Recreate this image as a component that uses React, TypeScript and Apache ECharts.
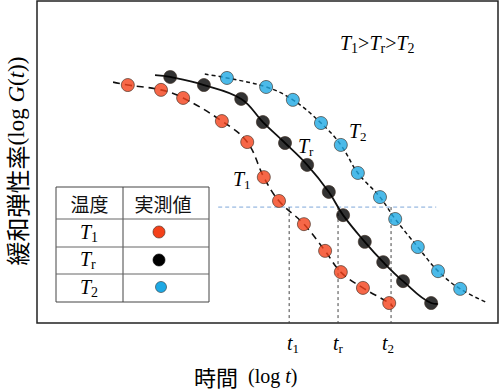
import React, { useEffect, useRef } from "react";
import * as echarts from "echarts";

// Measured points (x = log t, y = log G(t)), arbitrary units
const t1Points = [[1.97, 7.39], [2.69, 7.24], [3.17, 6.99], [4.01, 6.27], [4.56, 5.62], [4.92, 4.53], [5.25, 3.79], [5.79, 3.07], [6.25, 2.24], [6.59, 1.58], [7.07, 1.09], [7.64, 0.62]];
const trPoints = [[2.89, 7.64], [3.62, 7.39], [4.43, 6.96], [4.9, 6.24], [5.38, 5.59], [5.86, 4.91], [6.33, 4.07], [6.64, 3.35], [7.11, 2.52], [7.51, 1.89], [7.94, 1.3], [8.55, 0.62]];
const t2Points = [[4.12, 7.61], [4.97, 7.33], [5.55, 6.93], [6.16, 6.21], [6.59, 5.53], [6.96, 4.66], [7.44, 3.91], [7.77, 3.23], [8.26, 2.36], [8.7, 1.61], [9.18, 1.06]];

// Curve end points
const t1CurveEnds = [[1.65, 7.48], [7.72, 0.5]];
const trCurveEnds = [[2.56, 7.7], [8.7, 0.59]];
const t2CurveEnds = [[3.64, 7.73], [9.78, 0.62]];

// Reference level and shift times
const refLevel = 3.6;
const refRange = [3.93, 8.66];
const shiftTimes = [5.47, 6.53, 7.68];
const shiftLabels = ["1", "r", "2"];

const RED = "#F4411A";
const BLACK = "#000000";
const BLUE = "#1EA9E4";
const SERIF = "'Liberation Serif', 'Times New Roman', serif";
const CJK = "'Noto Sans CJK JP', 'Noto Sans', sans-serif";

const richT = (size: number, sub: number) => ({
  i: { fontFamily: SERIF, fontStyle: "italic", fontSize: size, lineHeight: size, color: "#111" },
  o: { fontFamily: SERIF, fontSize: size, lineHeight: size, color: "#111" },
  s: { fontFamily: SERIF, fontSize: sub, lineHeight: sub, padding: [Math.round(size * 0.5), 0, 0, 0], color: "#111" },
});

export default function App() {
  const ref = useRef<HTMLDivElement>(null);
  useEffect(() => {
    if (!ref.current) return;
    const chart = echarts.init(ref.current, null, { renderer: "svg" });
    const curve = (pts: number[][], ends: number[][]) => [ends[0], ...pts, ends[1]];
    const lineSeries = (name: string, data: number[][], type: any, width: number) => ({
      type: "line",
      name,
      data,
      smooth: 0.4,
      showSymbol: false,
      symbol: "none",
      lineStyle: { color: "#111", width, type },
      z: 2,
      silent: true,
    });
    const scatter = (name: string, data: number[][], color: string) => ({
      type: "scatter",
      name,
      data,
      symbol: "circle",
      symbolSize: 13,
      itemStyle: { color, borderColor: "#3a2a20", borderWidth: 0.8 },
      z: 3,
    });
    const refSeries: any[] = [
      {
        type: "line",
        data: [[refRange[0], refLevel], [refRange[1], refLevel]],
        showSymbol: false,
        symbol: "none",
        lineStyle: { color: "#7FA8DA", width: 1, type: [4, 3] },
        z: 1,
      },
      ...shiftTimes.map((x) => ({
        type: "line",
        data: [[x, refLevel], [x, 0]],
        showSymbol: false,
        symbol: "none",
        lineStyle: { color: "#444", width: 1, type: [3, 3] },
        z: 1,
      })),
    ];

    const tText = (letter: string, sub: string, x: number, y: number, size = 20, subSize = 13) => ({
      type: "text",
      x,
      y,
      style: {
        text: `{i|${letter}}{s|${sub}}`,
        rich: richT(size, subSize),
        align: "left",
        verticalAlign: "middle",
      },
    });

    const shiftPx = [287, 333, 382];

    chart.setOption({
      animation: false,
      grid: { left: 37, top: 1, width: 461, height: 322, show: true, borderColor: "#222", borderWidth: 1.5, backgroundColor: "#fff" },
      xAxis: { type: "value", min: 0, max: 10, axisLine: { show: false }, axisTick: { show: false }, axisLabel: { show: false }, splitLine: { show: false } },
      yAxis: { type: "value", min: 0, max: 10, axisLine: { show: false }, axisTick: { show: false }, axisLabel: { show: false }, splitLine: { show: false } },
      series: [
        ...refSeries,
        lineSeries("T1 curve", curve(t1Points, t1CurveEnds), [7, 5], 1.6),
        lineSeries("Tr curve", curve(trPoints, trCurveEnds), "solid", 1.8),
        lineSeries("T2 curve", curve(t2Points, t2CurveEnds), [4, 3], 1.5),
        scatter("T1", t1Points, RED),
        scatter("Tr", trPoints, BLACK),
        scatter("T2", t2Points, BLUE),
      ],
      graphic: [
        {
          type: "text",
          x: 340,
          y: 43,
          style: {
            text: "{i|T}{s|1}{o|>}{i|T}{s|r}{o|>}{i|T}{s|2}",
            rich: richT(20, 14),
            align: "left",
            verticalAlign: "middle",
          },
        },
        tText("T", "2", 349, 131),
        tText("T", "r", 298, 146),
        tText("T", "1", 233, 179),
        ...shiftLabels.map((s, i) => tText("t", s, shiftPx[i], 343)),
        // table
        { type: "rect", shape: { x: 56, y: 187, width: 153, height: 115 }, style: { fill: "#fff", stroke: "#444", lineWidth: 1 } },
        { type: "line", shape: { x1: 123, y1: 187, x2: 123, y2: 302 }, style: { stroke: "#444", lineWidth: 1 } },
        ...[219, 247, 274].map((y) => ({ type: "line", shape: { x1: 56, y1: y, x2: 209, y2: y }, style: { stroke: "#666", lineWidth: 1 } })),
        { type: "text", x: 89.5, y: 203, style: { text: "温度", font: `19px ${CJK}`, fill: "#111", align: "center", verticalAlign: "middle" } },
        { type: "text", x: 163, y: 203, style: { text: "実測値", font: `19px ${CJK}`, fill: "#111", align: "center", verticalAlign: "middle" } },
        tText("T", "1", 80, 232, 20, 14),
        tText("T", "r", 80, 259, 20, 14),
        tText("T", "2", 80, 287, 20, 14),
        { type: "circle", shape: { cx: 159, cy: 232, r: 6 }, style: { fill: RED, stroke: "#3a2a20", lineWidth: 0.6 } },
        { type: "circle", shape: { cx: 159, cy: 260, r: 6 }, style: { fill: BLACK, stroke: "#000", lineWidth: 0.6 } },
        { type: "circle", shape: { cx: 161, cy: 287, r: 5.5 }, style: { fill: BLUE, stroke: "#333", lineWidth: 0.6 } },
        // axis titles
        {
          type: "text",
          x: 16,
          y: 161,
          rotation: Math.PI / 2,
          style: {
            text: "{c|緩和弾性率}{r|(log }{ri|G}{r|(}{ri|t}{r|))}",
            align: "center",
            verticalAlign: "middle",
            rich: {
              c: { fontFamily: CJK, fontSize: 24, color: "#111" },
              r: { fontFamily: SERIF, fontSize: 23, color: "#111" },
              ri: { fontFamily: SERIF, fontSize: 23, fontStyle: "italic", color: "#111" },
            },
          },
        },
        {
          type: "text",
          x: 194,
          y: 376,
          style: {
            text: "{c|時間}{r|  (log }{ri|t}{r|)}",
            align: "left",
            verticalAlign: "middle",
            rich: {
              c: { fontFamily: CJK, fontSize: 22, color: "#111" },
              r: { fontFamily: SERIF, fontSize: 20, color: "#111" },
              ri: { fontFamily: SERIF, fontSize: 20, fontStyle: "italic", color: "#111" },
            },
          },
        },
      ],
    });
    return () => chart.dispose();
  }, []);
  return <div ref={ref} style={{ width: 500, height: 391, position: "absolute", left: 0, top: 0, background: "#fff" }} />;
}
